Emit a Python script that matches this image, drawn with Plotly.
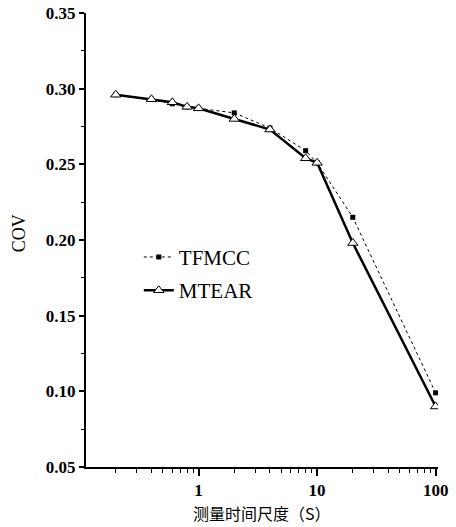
import plotly.graph_objects as go

# Data
time_scale = [0.2, 0.4, 0.6, 0.8, 1, 2, 4, 8, 10, 20, 100]
tfmcc = [0.296, 0.293, 0.290, 0.288, 0.287, 0.284, 0.274, 0.259, 0.251, 0.215, 0.099]
mtear = [0.296, 0.293, 0.291, 0.288, 0.287, 0.280, 0.273, 0.254, 0.251, 0.198, 0.090]

x_major_ticks = [1, 10, 100]
x_major_labels = ["<b>1</b>", "<b>10</b>", "<b>100</b>"]
x_minor_ticks = [0.2, 0.3, 0.4, 0.5, 0.6, 0.7, 0.8, 0.9,
                 2, 3, 4, 5, 6, 7, 8, 9,
                 20, 30, 40, 50, 60, 70, 80, 90]
y_ticks = [0.05, 0.10, 0.15, 0.20, 0.25, 0.30, 0.35]
y_labels = ["<b>0.05</b>", "<b>0.10</b>", "<b>0.15</b>", "<b>0.20</b>",
            "<b>0.25</b>", "<b>0.30</b>", "<b>0.35</b>"]

serif = "Liberation Serif, Times New Roman, serif"

fig = go.Figure()
fig.add_trace(go.Scatter(
    x=time_scale, y=tfmcc, name="TFMCC", mode="lines+markers",
    legendgroup="a",
    line=dict(color="black", width=1, dash="dot"),
    marker=dict(symbol="square", size=5, color="black"),
))
fig.add_trace(go.Scatter(
    x=time_scale, y=mtear, name="MTEAR", mode="lines+markers",
    legendgroup="b",
    line=dict(color="black", width=2.5),
    marker=dict(symbol="triangle-up", size=9, color="white",
                line=dict(color="black", width=1)),
))

fig.update_layout(
    width=456, height=527,
    margin=dict(l=86, r=18, t=13, b=60),
    paper_bgcolor="white", plot_bgcolor="white",
    font=dict(family=serif, color="black", size=17),
    showlegend=True,
    legend=dict(x=0.15, y=0.507, xanchor="left", yanchor="top",
                bgcolor="rgba(0,0,0,0)", font=dict(size=21, family=serif),
                itemwidth=30, traceorder="grouped", tracegroupgap=3),
    annotations=[
        dict(text="COV", textangle=-90, xref="paper", yref="paper",
             x=-0.19, y=0.515, xanchor="center", yanchor="middle",
             showarrow=False, font=dict(size=18, family=serif)),
        dict(text="测量时间尺度（S）", xref="paper", yref="paper",
             x=0.5, y=-0.102, xanchor="center", yanchor="middle",
             showarrow=False, font=dict(size=16, family="Noto Sans CJK SC")),
    ],
)
fig.update_xaxes(
    type="log", range=[-0.95, 2.02], automargin=False,
    showline=True, linecolor="black", linewidth=2,
    showgrid=False, zeroline=False,
    tickmode="array", tickvals=x_major_ticks, ticktext=x_major_labels,
    ticks="outside", ticklen=7, tickwidth=1.5, tickcolor="black",
    minor=dict(tickmode="array", tickvals=x_minor_ticks, ticks="outside",
               ticklen=4, tickwidth=1, tickcolor="black"),
    tickfont=dict(size=17, family=serif),
)
fig.update_yaxes(
    range=[0.05, 0.35], automargin=False,
    showline=True, linecolor="black", linewidth=2,
    showgrid=False, zeroline=False,
    tickmode="array", tickvals=y_ticks, ticktext=y_labels,
    ticks="outside", ticklen=5, tickwidth=1.5, tickcolor="black",
    minor=dict(dtick=0.025, ticks="outside", ticklen=3, tickwidth=1,
               tickcolor="black"),
    tickfont=dict(size=17, family=serif),
)

fig.write_html("out.html")
